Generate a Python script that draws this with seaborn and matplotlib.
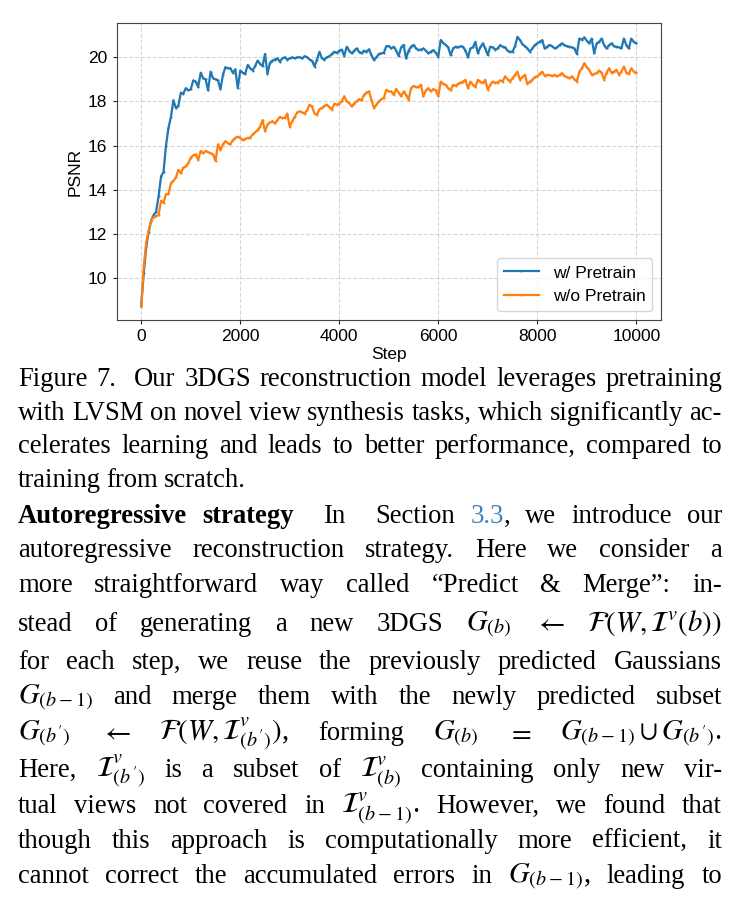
import numpy as np
import pandas as pd
import seaborn as sns
import matplotlib.pyplot as plt

# training curves, one eval every 50 steps
steps = list(range(0, 10001, 50))

psnr_pretrain = [
    8.75, 10.2, 11.4, 12.1, 12.6, 12.85, 13.0, 13.7, 14.6, 14.8,
    16.0, 16.8, 17.3, 18.05, 17.7, 17.8, 18.4, 18.35, 18.6, 18.5,
    18.55, 18.95, 18.9, 18.65, 19.3, 19.05, 19.0, 18.5, 19.35, 19.05,
    19.0, 18.95, 18.55, 19.2, 19.55, 19.5, 19.5, 19.3, 19.45, 18.6,
    19.4, 19.3, 19.25, 19.65, 19.5, 19.4, 19.6, 19.85, 19.7, 19.6,
    20.15, 19.25, 19.75, 19.85, 19.9, 19.95, 19.8, 19.95, 20.0, 19.9,
    19.95, 20.0, 19.95, 20.0, 20.0, 19.95, 20.05, 20.0, 19.9, 19.85,
    19.58, 19.9, 20.25, 19.95, 19.9, 20.0, 20.05, 20.15, 20.25, 20.2,
    20.3, 20.35, 20.06, 20.48, 20.3, 20.18, 20.3, 20.4, 20.25, 20.18,
    20.3, 20.25, 20.36, 20.1, 19.88, 20.0, 20.15, 20.18, 20.2, 20.5,
    20.51, 20.4, 20.48, 20.3, 20.06, 20.45, 20.56, 19.95, 20.3, 20.48,
    20.56, 20.4, 20.33, 20.35, 20.4, 20.3, 20.18, 20.25, 20.33, 20.2,
    20.03, 20.78, 20.65, 20.56, 20.45, 20.1, 20.4, 20.48, 20.45, 20.5,
    20.48, 20.3, 20.0, 20.4, 20.45, 20.7, 20.18, 20.45, 20.63, 20.4,
    20.1, 20.48, 20.45, 20.35, 20.4, 20.55, 20.48, 20.45, 20.3, 20.25,
    20.25, 20.5, 20.93, 20.78, 20.6, 20.5, 20.4, 20.25, 20.4, 20.55,
    20.63, 20.7, 20.78, 20.4, 20.48, 20.56, 20.5, 20.4, 20.45, 20.55,
    20.63, 20.55, 20.5, 20.48, 20.45, 20.4, 20.15, 20.85, 20.8, 20.9,
    20.75, 20.63, 20.85, 20.18, 20.63, 20.7, 20.85, 20.55, 20.4, 20.55,
    20.63, 20.5, 20.48, 20.45, 20.4, 20.85, 20.55, 20.4, 20.85, 20.7,
    20.63,
]

psnr_scratch = [
    8.7, 10.5, 11.6, 12.15, 12.6, 12.75, 12.8, 12.85, 13.5, 13.4,
    13.8, 13.8, 14.3, 14.4, 14.55, 14.9, 14.75, 15.0, 15.05, 15.2,
    15.45, 15.55, 15.6, 15.35, 15.75, 15.65, 15.75, 15.7, 15.65, 15.6,
    15.3, 16.05, 15.8, 16.05, 16.2, 16.1, 16.05, 16.25, 16.35, 16.4,
    16.35, 16.25, 16.3, 16.35, 16.35, 16.5, 16.6, 16.7, 16.85, 17.15,
    16.65, 16.95, 17.05, 17.1, 17.0, 17.15, 17.3, 17.25, 17.25, 17.45,
    16.85, 17.1, 17.3, 17.5, 17.55, 17.5, 17.45, 17.6, 17.85, 17.77,
    17.45, 17.4, 17.65, 17.7, 17.8, 17.85, 17.75, 17.62, 17.9, 17.85,
    17.9, 18.0, 18.23, 18.0, 17.93, 17.77, 17.9, 18.0, 18.1, 18.05,
    18.3, 18.4, 18.45, 18.07, 17.7, 17.85, 18.0, 18.1, 18.15, 18.53,
    18.45, 18.45, 18.3, 18.56, 18.4, 18.23, 18.45, 18.3, 18.07, 18.6,
    18.7, 18.65, 18.65, 18.75, 18.23, 18.5, 18.6, 18.45, 18.56, 18.5,
    18.23, 18.9, 18.8, 18.75, 18.6, 18.5, 18.75, 18.7, 18.8, 18.85,
    18.9, 18.98, 18.6, 18.9, 18.75, 18.65, 18.98, 18.9, 18.83, 18.98,
    18.53, 18.75, 18.9, 18.85, 18.85, 18.95, 18.9, 19.13, 19.0, 18.9,
    19.05, 19.2, 19.35, 18.98, 19.1, 19.2, 18.8, 18.9, 18.98, 19.1,
    19.13, 19.25, 19.35, 19.16, 19.2, 19.2, 19.15, 19.2, 19.13, 19.2,
    19.28, 19.15, 19.1, 19.05, 19.13, 19.0, 18.9, 19.35, 19.5, 19.73,
    19.55, 19.43, 19.2, 19.25, 19.28, 19.4, 19.3, 18.98, 19.3, 19.5,
    19.3, 19.35, 19.43, 19.2, 19.35, 19.58, 19.3, 19.25, 19.5, 19.35,
    19.3,
]

series_names = ["w/ Pretrain", "w/o Pretrain"]
colors = ["#1f77b4", "#ff7f0e"]

caption_lines = [
    "Figure 7.  Our 3DGS reconstruction model leverages pretraining",
    "with LVSM on novel view synthesis tasks, which significantly ac-",
    "celerates learning and leads to better performance, compared to",
    "training from scratch.",
]
para_lines = [
    "{b}Autoregressive {b}strategy  In  Section {c}3.3|, we introduce our",
    "autoregressive reconstruction strategy. Here we consider a",
    "more straightforward way called \u201cPredict & Merge\u201d: in-",
    r"stead of generating a new 3DGS $G_{(b)}$ $\leftarrow$ $\mathcal{F}(W,\mathcal{I}^v(b))$",
    "for each step, we reuse the previously predicted Gaussians",
    r"$G_{(b-1)}$ and merge them with the newly predicted subset",
    r"$G_{(b')}$ $\leftarrow$ $\mathcal{F}(W,\mathcal{I}^v_{(b')})$, forming $G_{(b)}$ $=$ $G_{(b-1)}\cup{G_{(b')}}$.",
    r"Here, $\mathcal{I}^v_{(b')}$ is a subset of $\mathcal{I}^v_{(b)}$ containing only new vir-",
    r"tual views not covered in $\mathcal{I}^v_{(b-1)}$. However, we found that",
    "though this approach is computationally more efficient, it",
    r"cannot correct the accumulated errors in $G_{(b-1)}$, leading to",
]

W, H = 740, 910
plt.rcParams['font.family'] = ['Liberation Sans', 'DejaVu Sans']
plt.rcParams['font.size'] = 12
plt.rcParams['mathtext.fontset'] = 'stix'

fig = plt.figure(figsize=(W / 100, H / 100), dpi=100)
ax = fig.add_axes([116.5 / W, 1 - 320 / H, (661 - 116.5) / W, (320 - 23.3) / H])

for name, vals, c in zip(series_names, [psnr_pretrain, psnr_scratch], colors):
    df = pd.DataFrame({"Step": steps, "PSNR": vals})
    sns.lineplot(data=df, x="Step", y="PSNR", ax=ax, color=c, label=name,
                 linewidth=1.6, marker='.', markersize=3, markeredgewidth=0)

ax.set_xticks([0, 2000, 4000, 6000, 8000, 10000])
ax.set_yticks([10, 12, 14, 16, 18, 20])
ax.grid(True, linestyle='--', color='#b0b0b0', alpha=0.5, linewidth=0.8)
for s in ax.spines.values():
    s.set_color('#444444')
ax.tick_params(colors='#222222', labelcolor='black', labelsize=12.5, length=3)
ax.legend(loc='lower right', fontsize=12.5)
ax.set_xlabel("Step", fontsize=12.5, labelpad=2)
ax.set_ylabel("PSNR", fontsize=12.5)

# ---- justified text block below the chart ----
renderer = fig.canvas.get_renderer()
body_size = 19.2
serif = dict(family='Liberation Serif', fontsize=body_size, va='baseline')
X0, X1 = 18, 722


def make_word(word):
    parts = []
    for seg in word.split('|'):
        kw = dict(serif)
        if seg.startswith('{b}'):
            seg = seg[3:]
            kw['weight'] = 'bold'
        elif seg.startswith('{c}'):
            seg = seg[3:]
            kw['color'] = '#3b7fc4'
        if '$' in seg:
            kw['fontsize'] = body_size * 1.08
        t = fig.text(0, 0, seg, **kw)
        parts.append(t)
    widths = [p.get_window_extent(renderer=renderer).width for p in parts]
    return parts, widths


def write_line(line, y_px, justify=True):
    words, gaps = [], []
    weight = 1
    for w in line.split(' '):
        if w == '':
            weight += 1
            continue
        words.append(make_word(w))
        gaps.append(weight)
        weight = 1
    total = sum(sum(wd) for _, wd in words)
    gw = sum(gaps[1:])
    if justify and gw > 0:
        unit = (X1 - X0 - total) / gw
    else:
        unit = 5.5
    x = X0
    y = 1 - y_px / H
    for i, (parts, widths) in enumerate(words):
        if i > 0:
            x += unit * gaps[i]
        for p, wd in zip(parts, widths):
            p.set_position((x / W, y))
            x += wd


cap_y = [386, 420, 453, 487]
for i, (ln, yy) in enumerate(zip(caption_lines, cap_y)):
    write_line(ln, yy, justify=(i < len(caption_lines) - 1))

para_y = [523, 557, 592, 631, 669, 704, 740, 777, 813, 848, 883]
for ln, yy in zip(para_lines, para_y):
    write_line(ln, yy)

fig.savefig("out.png", dpi=100)
